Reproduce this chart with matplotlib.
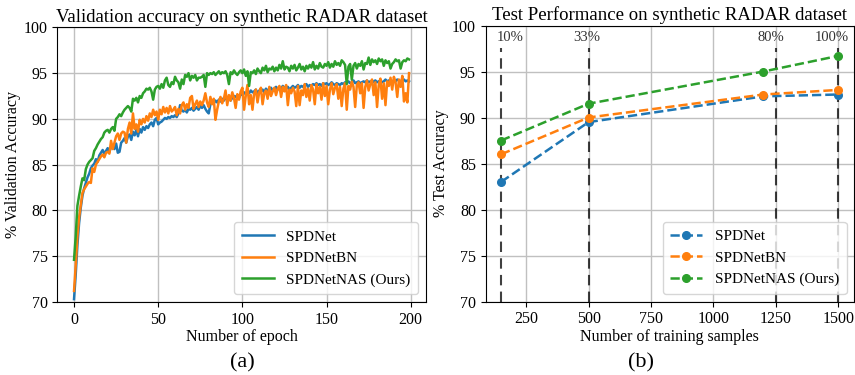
import numpy as np
import matplotlib
matplotlib.use('Agg')
import matplotlib.pyplot as plt

plt.rcParams['font.family'] = ['Liberation Serif', 'DejaVu Serif']
plt.rcParams['mathtext.fontset'] = 'stix'

# validation accuracy per epoch
spdnet_val = [
    70.3, 73.0, 76.2, 78.6, 80.3, 81.6, 82.4, 83.0, 83.6, 84.0,
    84.6, 84.9, 85.1, 85.6, 85.3, 86.0, 86.3, 86.6, 86.2, 86.5,
    86.8, 86.4, 86.9, 87.1, 86.7, 87.3, 86.3, 86.4, 87.4, 87.6,
    87.9, 87.4, 88.1, 88.3, 87.7, 88.6, 88.2, 88.8, 88.1, 88.9,
    88.5, 89.1, 88.8, 89.2, 89.0, 89.4, 89.6, 89.2, 89.9, 90.1,
    89.4, 89.6, 89.7, 89.9, 90.1, 90.0, 90.2, 90.1, 90.3, 90.2,
    90.4, 90.2, 90.6, 91.5, 90.9, 90.8, 91.0, 90.7, 91.1, 91.0,
    91.2, 90.9, 91.1, 91.3, 91.0, 91.4, 91.2, 91.5, 91.1, 90.8,
    90.6, 91.6, 91.8, 91.7, 92.0, 91.8, 92.1, 91.9, 92.2, 92.0,
    92.3, 92.1, 92.4, 92.0, 92.3, 92.5, 92.4, 92.6, 92.3, 92.7,
    92.6, 92.9, 92.7, 93.0, 92.8, 93.1, 92.9, 93.0, 93.2, 92.8,
    93.1, 93.0, 93.2, 92.9, 93.3, 93.1, 93.2, 93.4, 93.1, 93.3,
    93.5, 93.2, 93.4, 93.3, 93.6, 93.4, 93.3, 93.5, 93.2, 93.4,
    93.6, 93.4, 93.5, 93.7, 93.4, 93.6, 93.5, 93.7, 93.8, 93.5,
    93.7, 93.6, 93.8, 93.7, 93.9, 93.7, 93.8, 93.6, 93.9, 93.8,
    93.9, 93.7, 93.8, 94.0, 93.8, 93.7, 93.9, 93.8, 93.7, 93.9,
    93.8, 94.0, 93.9, 94.1, 93.9, 94.0, 94.2, 93.9, 94.0, 94.1,
    93.9, 94.0, 94.1, 94.0, 94.2, 94.0, 94.1, 93.9, 94.1, 94.2,
    94.0, 94.1, 94.2, 94.0, 94.1, 94.3, 94.1, 94.2, 94.0, 94.1,
    94.2, 94.1, 94.3, 94.2, 94.0, 94.2, 94.3, 94.1, 94.2, 94.1]

spdnetbn_val = [
    71.2, 74.0, 77.2, 79.2, 80.6, 81.9, 82.3, 82.6, 82.9, 83.1,
    83.0, 84.6, 84.2, 85.0, 85.3, 85.6, 85.9, 86.1, 85.8, 86.3,
    86.4, 86.2, 87.6, 86.7, 87.4, 88.1, 88.4, 87.7, 88.4, 88.6,
    88.5, 87.4, 88.9, 89.6, 88.4, 90.6, 88.9, 89.4, 88.6, 89.9,
    89.4, 90.0, 89.6, 90.3, 89.8, 90.6, 90.2, 91.0, 90.4, 90.8,
    89.9, 91.0, 90.5, 91.3, 90.7, 91.2, 90.6, 91.4, 90.8, 91.0,
    91.3, 90.4, 91.1, 90.6, 91.5, 91.8, 91.0, 91.6, 91.2, 92.3,
    92.5, 91.1, 91.6, 92.0, 91.3, 91.9, 91.5, 92.0, 92.8, 91.8,
    91.3, 92.4, 91.6, 92.2, 89.9, 91.0, 91.9, 92.4, 91.7, 92.2,
    93.1, 91.5, 92.6, 92.0, 92.9, 92.3, 91.2, 92.7, 92.1, 93.0,
    93.4, 91.0, 92.5, 93.7, 91.6, 92.6, 91.0, 92.8, 93.2, 91.8,
    92.9, 93.4, 91.6, 92.8, 93.1, 92.2, 93.5, 92.5, 93.0, 93.4,
    92.6, 93.3, 93.6, 92.4, 93.5, 93.0, 93.7, 91.5, 93.2, 92.8,
    93.4, 93.0, 91.4, 93.6, 91.5, 93.1, 92.6, 93.8, 92.4, 93.3,
    92.0, 93.7, 93.2, 91.6, 93.8, 92.8, 93.5, 92.1, 93.9, 92.5,
    93.6, 91.6, 93.2, 93.9, 92.7, 93.4, 93.8, 92.2, 93.5, 91.4,
    93.3, 93.9, 91.0, 93.6, 93.2, 94.1, 93.5, 91.3, 93.7, 94.0,
    92.8, 93.9, 91.2, 93.5, 94.2, 93.1, 93.8, 94.3, 92.6, 94.0,
    91.3, 93.7, 94.4, 92.2, 93.9, 91.5, 94.1, 93.6, 94.5, 93.2,
    94.6, 94.0, 92.4, 94.3, 93.5, 94.7, 91.9, 92.8, 91.8, 95.0]

spdnetnas_val = [
    74.6, 77.2, 80.5, 81.6, 82.6, 83.5, 83.3, 84.5, 85.0, 85.3,
    85.5, 85.7, 86.5, 86.8, 87.2, 87.5, 87.8, 88.0, 88.5, 88.7,
    88.8, 88.5, 88.9, 89.1, 88.7, 90.0, 90.2, 90.5, 90.3, 90.7,
    91.0, 91.2, 91.4, 91.2, 90.8, 92.2, 92.0, 92.3, 91.8, 92.5,
    92.3, 92.8, 93.0, 93.3, 93.2, 93.4, 93.0, 92.1, 93.2, 93.5,
    93.6, 93.3, 93.8, 93.4, 94.2, 94.5, 93.7, 93.5, 94.0, 93.8,
    94.6, 94.2, 94.0, 93.3, 94.3, 93.8, 94.8, 94.6, 95.0, 94.2,
    94.7, 94.5, 94.8, 94.2, 94.5, 94.5, 94.6, 94.8, 93.5, 95.0,
    94.8, 95.0, 94.9, 95.1, 94.8, 95.0, 95.2, 94.9, 95.1, 95.0,
    95.2, 94.8, 93.8, 95.1, 94.9, 95.3, 95.0, 94.8, 95.1, 95.3,
    95.0, 95.4, 94.7, 95.2, 93.6, 95.1, 95.0, 95.3, 94.9, 95.5,
    95.2, 95.0, 95.6, 95.3, 95.8, 95.1, 95.5, 95.4, 95.7, 95.2,
    95.6, 95.3, 95.9, 95.5, 96.3, 95.4, 95.7, 95.6, 95.2, 95.8,
    95.5, 95.9, 95.3, 95.6, 96.0, 95.4, 95.7, 95.2, 95.8, 95.5,
    95.9, 95.6, 96.2, 95.4, 95.8, 95.5, 96.1, 95.7, 95.6, 96.0,
    95.8, 96.2, 95.6, 96.0, 95.7, 96.3, 95.9, 96.1, 95.8, 96.4,
    96.2, 95.9, 93.8, 95.7, 96.0, 94.3, 95.8, 96.1, 95.5, 96.0,
    95.8, 96.3, 95.4, 96.1, 96.0, 96.7, 95.9, 96.5, 96.2, 96.4,
    96.0, 96.6, 96.3, 96.5, 95.8, 96.4, 96.1, 96.3, 95.5, 96.0,
    96.2, 96.5, 96.3, 96.4, 95.5, 96.2, 96.4, 96.3, 96.6, 96.5]

# test accuracy vs. training set size
n_samples = [150, 500, 1200, 1500]
spdnet_test = [83.0, 89.5, 92.3, 92.5]
spdnetbn_test = [86.0, 90.0, 92.5, 93.0]
spdnetnas_test = [87.5, 91.5, 95.0, 96.7]
pct_lines = [150, 500, 1250, 1500]
pct_labels = ['10%', '33%', '80%', '100%']
pct_text_x = [187, 492, 1230, 1474]

labels = ['SPDNet', 'SPDNetBN', 'SPDNetNAS (Ours)']
fs = 11.5
leg_kw = dict(loc='lower right', fontsize=11, handlelength=2.1,
              borderpad=0.5, labelspacing=0.5)

fig = plt.figure(figsize=(8.55, 3.75), dpi=100)
ax1 = fig.add_axes([0.067, 0.195, 0.431, 0.732])
ax2 = fig.add_axes([0.568, 0.196, 0.431, 0.736])

epochs = np.arange(len(spdnet_val))
ax1.plot(epochs, spdnet_val, color='C0', lw=1.8, label=labels[0])
ax1.plot(epochs, spdnetbn_val, color='C1', lw=1.8, label=labels[1])
ax1.plot(epochs, spdnetnas_val, color='C2', lw=1.8, label=labels[2])
ax1.set_ylim(70, 100)
ax1.set_xticks([0, 50, 100, 150, 200])
ax1.grid(True, color='#c0c0c0', lw=1.0)
ax1.set_axisbelow(True)
ax1.set_title('Validation accuracy on synthetic RADAR dataset', fontsize=13.5, pad=4)
ax1.set_xlabel('Number of epoch', fontsize=fs, labelpad=1)
ax1.set_ylabel('% Validation Accuracy', fontsize=fs, labelpad=2)
ax1.tick_params(labelsize=fs)
ax1.legend(**leg_kw)

for xv in pct_lines:
    ax2.axvline(xv, ymax=0.92, color='k', ls='--', lw=1.5, alpha=0.75, dashes=(5, 3))
for xt, lab in zip(pct_text_x, pct_labels):
    ax2.text(xt, 98.7, lab, ha='center', va='center', fontsize=10.5, color='#333333')
ax2.plot(n_samples, spdnet_test, '--o', color='C0', lw=1.8, ms=5.5, label=labels[0])
ax2.plot(n_samples, spdnetbn_test, '--o', color='C1', lw=1.8, ms=5.5, label=labels[1])
ax2.plot(n_samples, spdnetnas_test, '--o', color='C2', lw=1.8, ms=5.5, label=labels[2])
ax2.set_ylim(70, 100)
ax2.set_xlim(88, 1563)
ax2.set_xticks([250, 500, 750, 1000, 1250, 1500])
ax2.grid(True, color='#c0c0c0', lw=1.0)
ax2.set_axisbelow(True)
ax2.set_title('Test Performance on synthetic RADAR dataset', fontsize=13.5, pad=4)
ax2.set_xlabel('Number of training samples', fontsize=fs, labelpad=1)
ax2.set_ylabel('% Test Accuracy', fontsize=fs, labelpad=2)
ax2.tick_params(labelsize=fs)
ax2.legend(**leg_kw)

fig.text(0.283, 0.032, '(a)', ha='center', va='center', fontsize=16)
fig.text(0.75, 0.032, '(b)', ha='center', va='center', fontsize=16)

fig.savefig('out.png', dpi=100)
